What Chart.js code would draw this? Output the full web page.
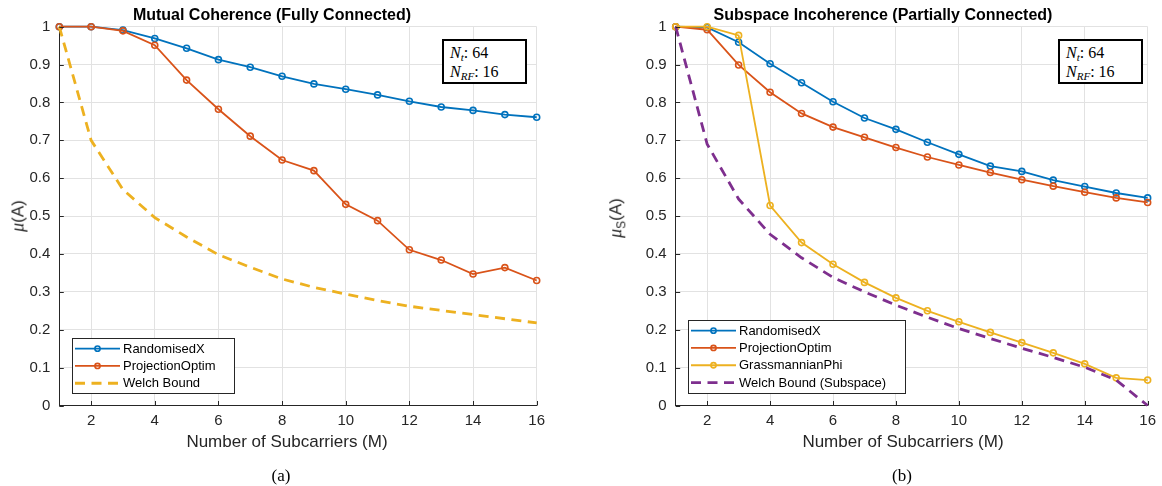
<!DOCTYPE html>
<html><head><meta charset="utf-8">
<script src="https://cdn.jsdelivr.net/npm/chart.js@4.4.1/dist/chart.umd.min.js"></script>
<style>
body{margin:0;background:#fff;width:1162px;height:486px;position:relative;overflow:hidden;font-family:"Liberation Sans",Arial,sans-serif;color:#262626}
canvas{position:absolute;top:0}
.t{position:absolute;white-space:nowrap;transform:translate(-50%,-50%)}
.title{font-weight:bold;font-size:16px;color:#000}
.xl{font-size:17px}
.yl{font-size:17px;transform:translate(-50%,-50%) rotate(-90deg)}
.yl i{font-family:"Liberation Serif","Times New Roman",serif;font-size:18px}
.yl sub{font-size:12px}
.pl{font-family:"Liberation Serif","Times New Roman",serif;font-size:17px;color:#000}
.ann{position:absolute;box-sizing:border-box;border:2px solid #000;background:#fff;font-family:"Liberation Serif","Times New Roman",serif;font-size:16px;color:#000;padding:2px 0 0 6px;line-height:19px;white-space:nowrap}
.ann sub{font-size:11px;line-height:0;vertical-align:-3px}
</style>
</head><body>
<canvas id="c1" width="580" height="486" style="left:0"></canvas>
<canvas id="c2" width="582" height="486" style="left:580px"></canvas>

<div class="t title" style="left:272px;top:15px">Mutual Coherence (Fully Connected)</div>
<div class="t title" style="left:883px;top:15px">Subspace Incoherence (Partially Connected)</div>
<div class="t xl" style="left:287px;top:442px">Number of Subcarriers (M)</div>
<div class="t xl" style="left:903px;top:442px">Number of Subcarriers (M)</div>
<div class="t yl" style="left:18px;top:216px"><i>μ</i>(A)</div>
<div class="t yl" style="left:617px;top:218px"><i>μ</i><sub>S</sub>(A)</div>
<div class="t pl" style="left:281px;top:476px">(a)</div>
<div class="t pl" style="left:902px;top:476px">(b)</div>
<div class="ann" style="left:442px;top:39px;width:85px;height:45px"><i>N</i><sub><i>t</i></sub>: 64<br><i>N</i><sub><i>RF</i></sub>: 16</div>
<div class="ann" style="left:1058px;top:39px;width:85px;height:45px"><i>N</i><sub><i>t</i></sub>: 64<br><i>N</i><sub><i>RF</i></sub>: 16</div>

<script>
// ---- data ----
const subcarriers = [1,2,3,4,5,6,7,8,9,10,11,12,13,14,15,16];
const xTickValues = [2,4,6,8,10,12,14,16];
const xTickLabels = ['2','4','6','8','10','12','14','16'];
const yTickValues = [0,0.1,0.2,0.3,0.4,0.5,0.6,0.7,0.8,0.9,1];
const yTickLabels = ['0','0.1','0.2','0.3','0.4','0.5','0.6','0.7','0.8','0.9','1'];

// (a) Mutual Coherence (Fully Connected)
const fcRandomisedX     = [1, 1, 0.991, 0.969, 0.943, 0.913, 0.893, 0.869, 0.849, 0.835, 0.820, 0.803, 0.788, 0.779, 0.768, 0.761];
const fcProjectionOptim = [1, 1, 0.989, 0.951, 0.859, 0.782, 0.711, 0.648, 0.620, 0.531, 0.488, 0.411, 0.384, 0.347, 0.364, 0.330];
const fcWelchBound      = [1, 0.700, 0.570, 0.496, 0.445, 0.398, 0.365, 0.334, 0.312, 0.294, 0.277, 0.262, 0.251, 0.240, 0.229, 0.218];

// (b) Subspace Incoherence (Partially Connected)
const pcRandomisedX      = [1, 0.998, 0.959, 0.902, 0.852, 0.802, 0.759, 0.729, 0.695, 0.663, 0.632, 0.618, 0.595, 0.578, 0.561, 0.548];
const pcProjectionOptim  = [1, 0.992, 0.899, 0.827, 0.771, 0.735, 0.708, 0.681, 0.656, 0.635, 0.615, 0.596, 0.579, 0.563, 0.548, 0.536];
const pcGrassmannianPhi  = [1, 1, 0.977, 0.528, 0.430, 0.373, 0.325, 0.284, 0.250, 0.221, 0.193, 0.166, 0.139, 0.110, 0.073, 0.067];
const pcWelchSubspace    = [1, 0.690, 0.545, 0.452, 0.390, 0.338, 0.300, 0.265, 0.233, 0.203, 0.177, 0.151, 0.127, 0.101, 0.067, 0];

// ---- styling ----
const C_BLUE = '#0072BD', C_ORANGE = '#D95319', C_YELLOW = '#EDB120', C_PURPLE = '#7E2F8E';
Chart.defaults.font.family = "'Liberation Sans', Arial, sans-serif";
Chart.defaults.font.size = 15;
Chart.defaults.color = '#262626';

const pts = vals => subcarriers.map((m, i) => ({x: m, y: vals[i]}));
function markerSeries(label, vals, color) {
  return {label, data: pts(vals), borderColor: color, backgroundColor: color, borderWidth: 1.8,
    pointRadius: 3, pointHoverRadius: 3, pointBorderWidth: 1.6, pointBackgroundColor: 'rgba(0,0,0,0)',
    pointBorderColor: color, tension: 0, clip: false};
}
function dashedSeries(label, vals, color) {
  return {label, data: pts(vals), borderColor: color, backgroundColor: color, borderWidth: 2.8,
    borderDash: [10, 6.5], pointRadius: 0, pointHoverRadius: 0, tension: 0, clip: false};
}

const inwardTicks = {
  id: 'inwardTicks',
  afterDraw(chart) {
    const {ctx, chartArea: ca, scales: {x, y}} = chart;
    ctx.save();
    ctx.strokeStyle = '#262626'; ctx.lineWidth = 1;
    ctx.beginPath();
    x.ticks.forEach(t => { const px = Math.round(x.getPixelForValue(t.value)) + 0.5; ctx.moveTo(px, ca.bottom); ctx.lineTo(px, ca.bottom - 4.5); });
    y.ticks.forEach(t => { const py = Math.round(y.getPixelForValue(t.value)) + 0.5; ctx.moveTo(ca.left, py); ctx.lineTo(ca.left + 4.5, py); });
    ctx.stroke();
    ctx.restore();
  }
};

const matlabLegend = {
  id: 'matlabLegend',
  afterDatasetsDraw(chart, args, o) {
    const ctx = chart.ctx, ca = chart.chartArea, ds = chart.data.datasets;
    ctx.save();
    ctx.font = o.font;
    const rowH = o.rowH;
    const tw = Math.max(...ds.map(d => ctx.measureText(d.label).width));
    const w = Math.round(o.textOffset + tw + o.rightPad);
    const h = Math.round(ds.length * rowH + 3.5);
    const x0 = Math.round(ca.left + o.dx), y0 = Math.round(ca.bottom - o.dy - h);
    ctx.fillStyle = '#fff'; ctx.fillRect(x0, y0, w, h);
    ctx.strokeStyle = '#262626'; ctx.lineWidth = 1; ctx.strokeRect(x0 + 0.5, y0 + 0.5, w, h);
    ds.forEach((d, i) => {
      const cy = y0 + 2 + rowH * (i + 0.5);
      ctx.strokeStyle = d.borderColor; ctx.lineWidth = d.borderWidth;
      ctx.setLineDash(d.borderDash || []);
      ctx.beginPath(); ctx.moveTo(x0 + 3, cy); ctx.lineTo(x0 + 48, cy); ctx.stroke();
      ctx.setLineDash([]);
      if (d.pointRadius > 0) {
        ctx.lineWidth = d.pointBorderWidth;
        ctx.beginPath(); ctx.arc(x0 + 25.5, cy, 2.6, 0, 2 * Math.PI); ctx.stroke();
      }
      ctx.fillStyle = '#000'; ctx.textBaseline = 'middle'; ctx.textAlign = 'left';
      ctx.fillText(d.label, x0 + o.textOffset, cy + 0.5);
    });
    ctx.restore();
  }
};

function makeChart(id, datasets, yAxisWidth, padRight) {
  datasets.forEach((d, i) => { d.order = datasets.length - i; });
  return new Chart(document.getElementById(id), {
    type: 'line',
    data: {datasets},
    plugins: [inwardTicks, matlabLegend],
    options: {
      responsive: false, animation: false, events: [],
      layout: {autoPadding: false, padding: {top: 26.7, right: padRight, left: 0, bottom: 0}},
      plugins: {
        legend: {display: false}, tooltip: {enabled: false},
        matlabLegend: {font: "13px 'Liberation Sans', Arial, sans-serif", rowH: 17.3, textOffset: 51, rightPad: 19, dx: 12.5, dy: 12.5}
      },
      scales: {
        x: {type: 'linear', min: 1, max: 16,
          afterFit: s => { s.height = 80.5; },
          afterBuildTicks: s => { s.ticks = xTickValues.map(v => ({value: v})); },
          grid: {color: '#e2e2e2', lineWidth: 1, drawTicks: false},
          border: {display: true, color: '#262626', width: 1},
          ticks: {padding: 6, maxRotation: 0, autoSkip: false, color: '#262626', font: {size: 15},
            callback: (v, i) => xTickLabels[i]}
        },
        y: {type: 'linear', min: 0, max: 1,
          afterFit: s => { s.width = yAxisWidth; },
          afterBuildTicks: s => { s.ticks = yTickValues.map(v => ({value: v})); },
          grid: {color: '#e2e2e2', lineWidth: 1, drawTicks: false},
          border: {display: true, color: '#262626', width: 1},
          ticks: {padding: 9, autoSkip: false, color: '#262626', font: {size: 15},
            callback: (v, i) => yTickLabels[i]}
        }
      }
    }
  });
}

makeChart('c1', [
  markerSeries('RandomisedX', fcRandomisedX, C_BLUE),
  markerSeries('ProjectionOptim', fcProjectionOptim, C_ORANGE),
  dashedSeries('Welch Bound', fcWelchBound, C_YELLOW)
], 59.3, 43.3);

makeChart('c2', [
  markerSeries('RandomisedX', pcRandomisedX, C_BLUE),
  markerSeries('ProjectionOptim', pcProjectionOptim, C_ORANGE),
  markerSeries('GrassmannianPhi', pcGrassmannianPhi, C_YELLOW),
  dashedSeries('Welch Bound (Subspace)', pcWelchSubspace, C_PURPLE)
], 95.7, 7);
</script>
</body></html>
